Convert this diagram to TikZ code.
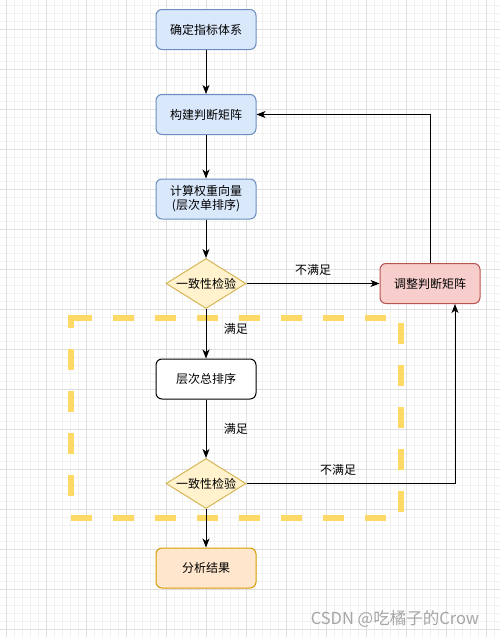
\documentclass[tikz,border=0pt]{standalone}
\usepackage{fontspec}
\setmainfont{Noto Sans CJK SC}
\usepackage{tikz}
\usetikzlibrary{arrows.meta,shapes.geometric}
\definecolor{gridmajor}{HTML}{DFDFDF}
\definecolor{gridminor}{HTML}{F1F1F1}
\definecolor{blueFill}{HTML}{DAE8FC}
\definecolor{blueLine}{HTML}{6C8EBF}
\definecolor{yellowFill}{HTML}{FFF2CC}
\definecolor{yellowLine}{HTML}{D6B656}
\definecolor{redFill}{HTML}{F8CECC}
\definecolor{redLine}{HTML}{B85450}
\definecolor{orangeFill}{HTML}{FFE6CC}
\definecolor{orangeLine}{HTML}{D79B00}
\definecolor{frameYellow}{HTML}{FFD966}
\definecolor{markGray}{HTML}{A6A6A6}

\begin{document}
\begin{tikzpicture}[x=1pt,y=-1pt,font=\fontsize{12}{14}\selectfont,
    box/.style={draw, rounded corners=6pt, line width=1pt, minimum width=100pt,
                minimum height=40pt, inner sep=0pt, align=center},
    check/.style={draw=yellowLine, fill=yellowFill, diamond, line width=1pt,
                  minimum width=80pt, minimum height=50pt, inner sep=0pt},
    link/.style={line width=1pt, -{Stealth[length=9pt,width=7pt,inset=2.5pt]}},
    frame/.style={frameYellow, line width=6pt, line cap=rect, dash pattern=on 15pt off 27pt}]
    \useasboundingbox (0,0) rectangle (500,637);
    % background grid
    \fill [white] (0,0) rectangle (500,637);
    \foreach \x in {-2,6,...,502}
        \draw [gridminor, line width=.8pt] (\x,0) -- (\x,637);
    \foreach \y in {-3,5,...,637}
        \draw [gridminor, line width=.8pt] (0,\y) -- (500,\y);
    \foreach \x in {6,46,...,500}
        \draw [gridmajor, line width=.8pt] (\x,0) -- (\x,637);
    \foreach \y in {29,69,...,637}
        \draw [gridmajor, line width=.8pt] (0,\y) -- (500,\y);

    % dashed frame
    \draw [frame, dash phase=39pt] (71,318) -- (401,318);
    \draw [frame, dash phase=34pt] (401,318) -- (401,518);
    \draw [frame, dash phase=39pt] (71,518) -- (401,518);
    \draw [frame, dash phase=8pt] (71,318) -- (71,518);

    % nodes
    \node [box, draw=blueLine, fill=blueFill] (index) at (206,29.5) {确定指标体系};
    \node [box, draw=blueLine, fill=blueFill] (matrix) at (206,114.5) {构建判断矩阵};
    \node [box, draw=blueLine, fill=blueFill] (weight) at (206,199) {计算权重向量\\(层次单排序)};
    \node [check] (checkA) at (206,283.5) {\makebox[0pt]{一致性检验}};
    \node [box, draw=redLine, fill=redFill] (adjust) at (430,283.5) {调整判断矩阵};
    \node [box, draw=black, fill=white] (total) at (206,379) {层次总排序};
    \node [check] (checkB) at (206,483.5) {\makebox[0pt]{一致性检验}};
    \node [box, draw=orangeLine, fill=orangeFill] (result) at (206,568) {分析结果};

    % connectors
    \draw [link] (index) -- (matrix);
    \draw [link] (matrix) -- (weight);
    \draw [link] (weight) -- (checkA);
    \draw [link] (checkA) -- node [above=4pt] {不满足} (adjust);
    \draw [link] (checkA) -- node [pos=.4, right=14pt] {满足} (total);
    \draw [link] (total) -- node [right=14pt] {满足} (checkB);
    \draw [link] (checkB.east) -| node [pos=.22, above=4pt] {不满足} ([xshift=25pt]adjust.south);
    \draw [link] (adjust.north) |- (matrix.east);
    \draw [link] (checkB) -- (result);

    \node [markGray, font=\fontsize{16.5}{18}\selectfont] (mark) at (395,619) {CSDN @吃橘子的Crow};
\end{tikzpicture}
\end{document}
